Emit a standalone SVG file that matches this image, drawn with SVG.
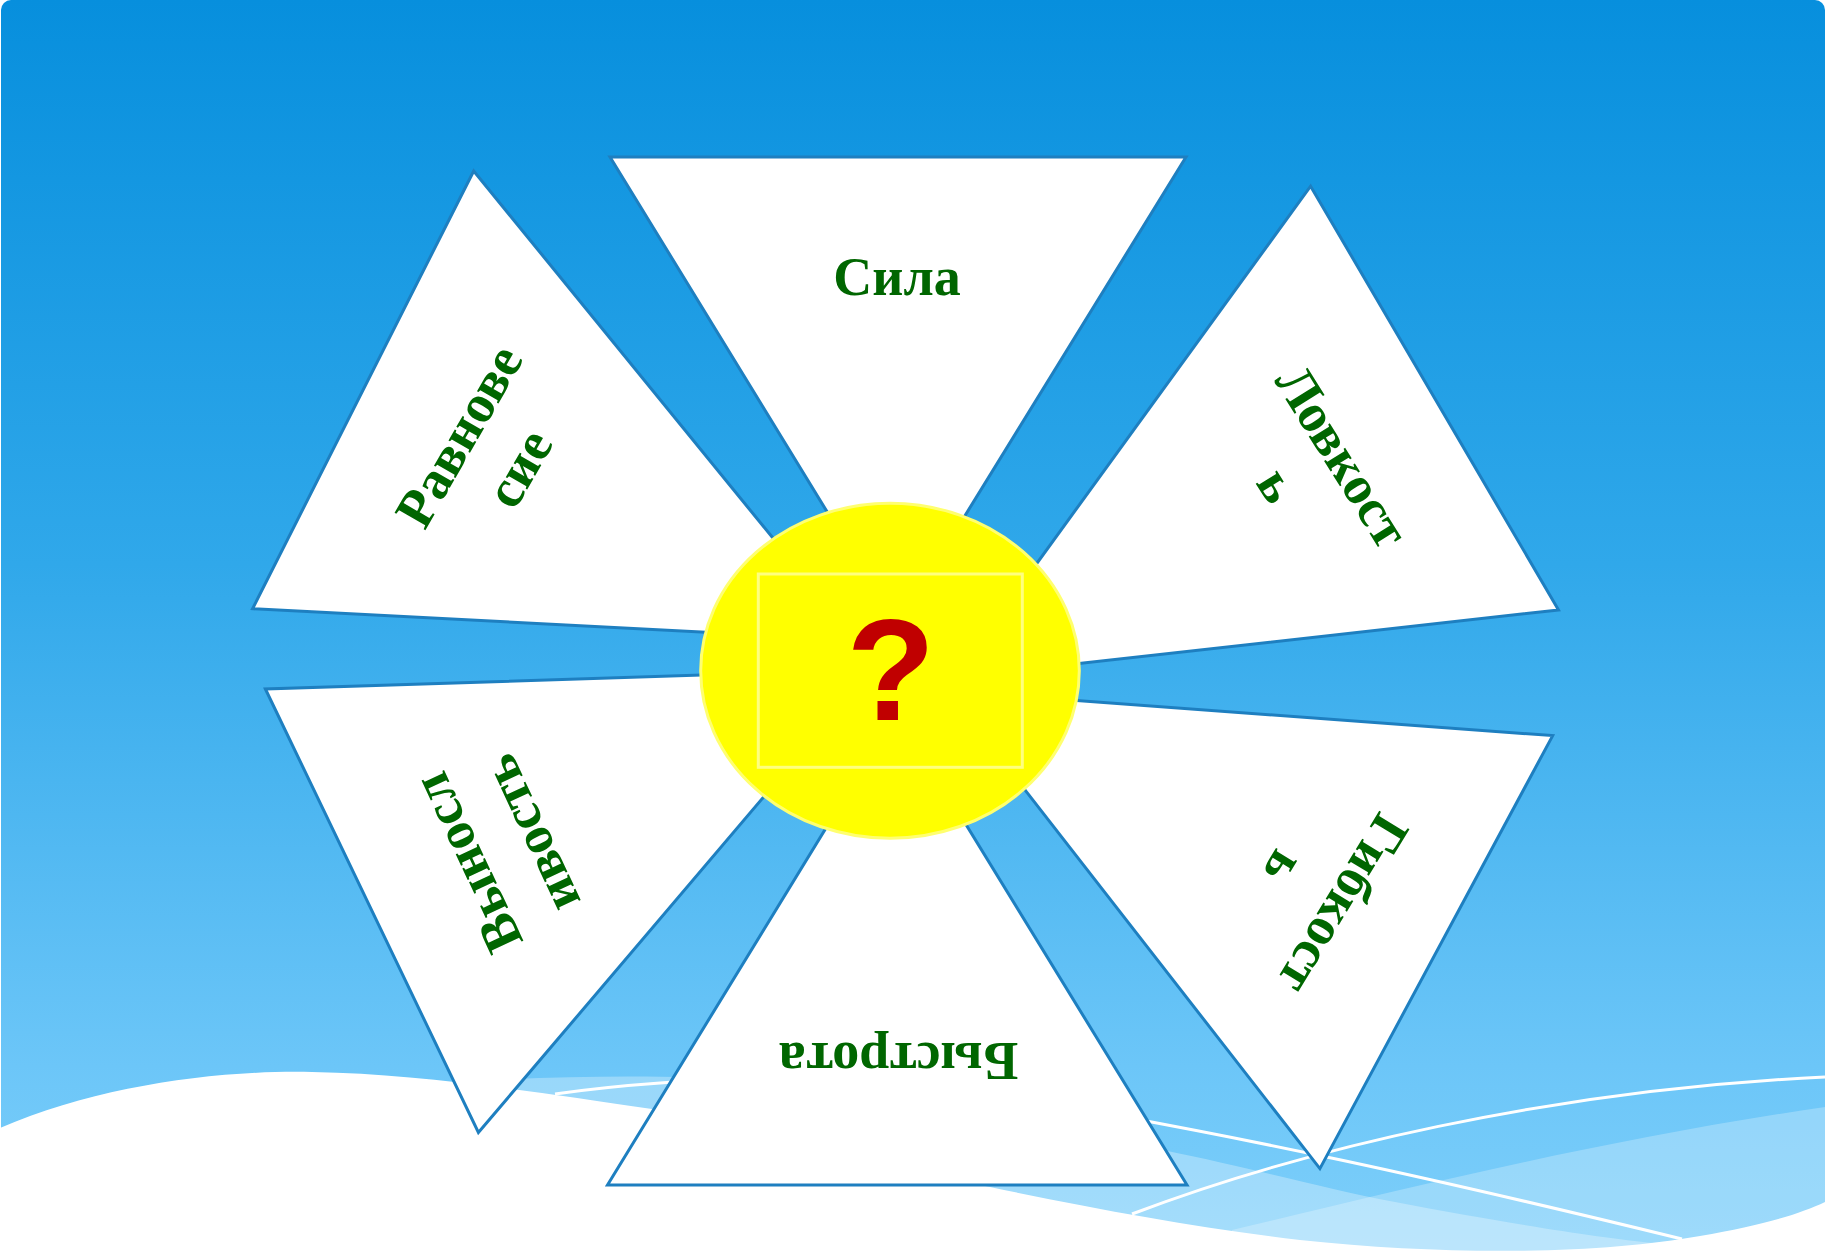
<svg xmlns="http://www.w3.org/2000/svg" width="1825" height="1254" viewBox="0 0 1825 1254">
  <defs>
    <linearGradient id="sky" x1="0" y1="0" x2="0" y2="1254" gradientUnits="userSpaceOnUse">
      <stop offset="0" stop-color="#078FDD"/>
      <stop offset="0.45" stop-color="#30A8EA"/>
      <stop offset="0.85" stop-color="#6CC6F8"/>
      <stop offset="1" stop-color="#7ECFFA"/>
    </linearGradient>
    <style>
      .tri { fill: #FFFFFF; stroke: #1E7FC0; stroke-width: 3; stroke-linejoin: miter; }
      .lbl { font-family: "Liberation Serif", "Times New Roman", serif; font-weight: bold; font-size: 54px; fill: #006600; text-anchor: middle; }
      .wline { fill: none; stroke: #FFFFFF; stroke-width: 3; }
    </style>
  </defs>

  <!-- background -->
  <rect x="0" y="0" width="1825" height="1254" fill="#FFFFFF"/>
  <rect x="1" y="0" width="1824" height="1254" rx="10" ry="10" fill="url(#sky)"/>
  <!-- light bands -->
  <path d="M451,1082 C560,1076 650,1074 760,1080 C900,1090 1040,1125 1163,1150 C1260,1170 1330,1190 1395,1202 C1500,1222 1600,1238 1653,1243 L1653,1254 L451,1254 Z" fill="#FFFFFF" fill-opacity="0.3"/>
  <path d="M1232,1230 C1400,1190 1600,1140 1825,1107 L1825,1254 L1232,1254 Z" fill="#FFFFFF" fill-opacity="0.25"/>
  <!-- white lines -->
  <path class="wline" d="M555,1094 C620,1085 700,1078 800,1078 C900,1080 1000,1095 1114,1115 C1250,1140 1400,1170 1682,1239"/>
  <path class="wline" d="M1132,1214 C1300,1150 1550,1090 1825,1077"/>
  <!-- white wave -->
  <path d="M0,1128 C100,1085 220,1070 312,1072 C420,1074 520,1090 652,1109 C800,1135 900,1168 990,1187 C1100,1210 1200,1228 1300,1240 C1450,1256 1600,1254 1700,1236 C1760,1226 1800,1214 1825,1202 L1825,1254 L0,1254 Z" fill="#FFFFFF"/>

  <!-- triangles -->
  <g id="node-sila">
    <polygon class="tri" points="610,157 1186,157 897,626"/>
    <text class="lbl" x="897" y="295">Сила</text>
  </g>
  <g id="node-bystrota">
    <polygon class="tri" points="607.5,1185 1187,1185 897,712"/>
    <text class="lbl" transform="translate(898.5,1043) rotate(180)" x="0" y="0">Быстрота</text>
  </g>
  <g id="node-ravnovesie">
    <polygon class="tri" points="473.7,171 252.6,608.7 856,640"/>
    <g transform="translate(461.5,437.5) rotate(-60)">
      <text class="lbl" x="0" y="15">Равнове</text>
      <text class="lbl" x="2" y="83">сие</text>
    </g>
  </g>
  <g id="node-lovkost">
    <polygon class="tri" points="1310.6,186.2 1558.5,609.9 954,677.5"/>
    <g transform="translate(1340,458) rotate(58)">
      <text class="lbl" x="0" y="15">Ловкост</text>
      <text class="lbl" x="-10" y="85">ь</text>
    </g>
  </g>
  <g id="node-vynoslivost">
    <polygon class="tri" points="265.4,689 478.4,1132.5 872,669.5"/>
    <g transform="translate(470,861.5) rotate(-115)">
      <text class="lbl" x="0" y="15">Выносл</text>
      <text class="lbl" x="0" y="84">ивость</text>
    </g>
  </g>
  <g id="node-gibkost">
    <polygon class="tri" points="1552.7,735.6 1319.9,1168.6 948,691"/>
    <g transform="translate(1341,902.5) rotate(121.3)">
      <text class="lbl" x="0" y="15">Гибкост</text>
      <text class="lbl" x="0" y="84">ь</text>
    </g>
  </g>

  <!-- center -->
  <g id="node-center">
    <ellipse cx="890" cy="670.8" rx="189.3" ry="167.5" fill="#FFFF00" stroke="#FFFF70" stroke-width="3"/>
    <rect x="758.3" y="574" width="264" height="193.3" fill="none" stroke="#FFFF80" stroke-width="3"/>
    <text x="890.7" y="720" font-family="'Liberation Sans', Arial, sans-serif" font-weight="bold" font-size="145" fill="#C00000" text-anchor="middle">?</text>
  </g>

  <g id="connectors"></g>
</svg>
